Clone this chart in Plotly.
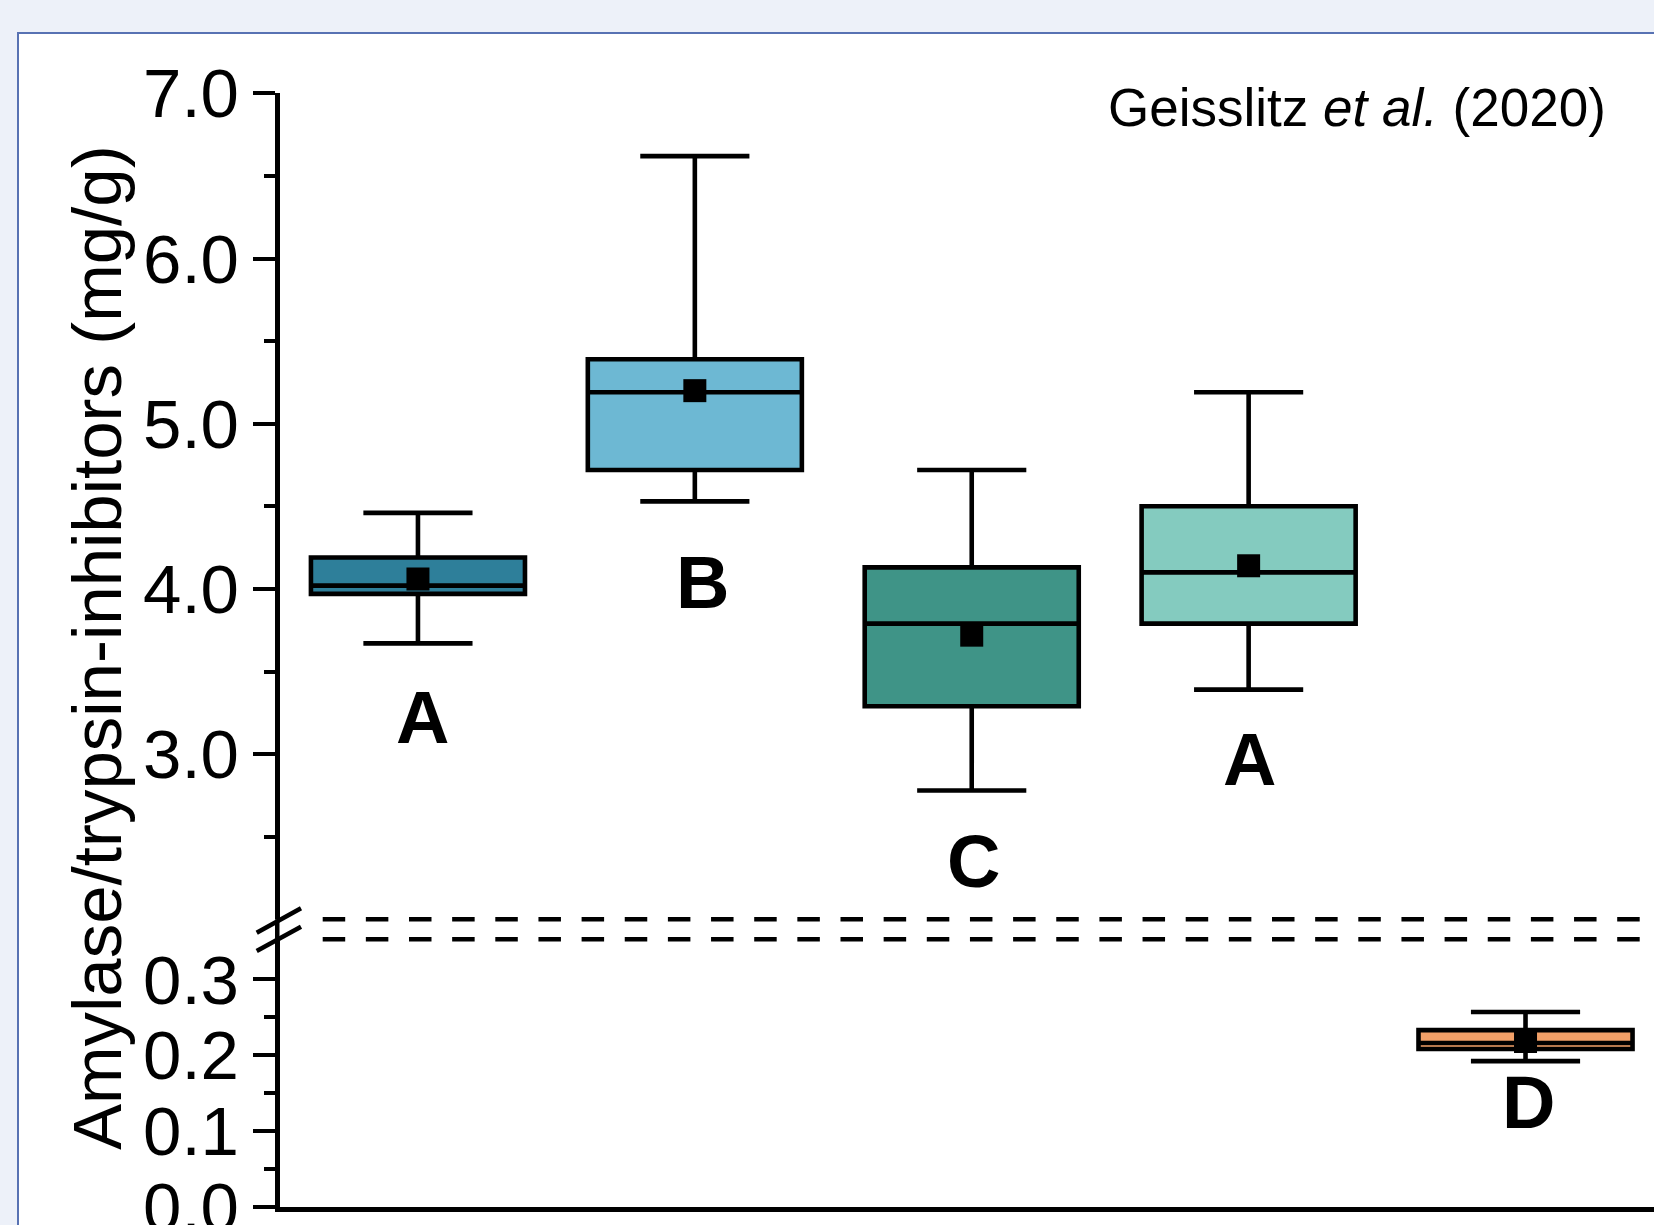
import plotly.graph_objects as go

# ---------------- data ----------------
positions = [1, 2, 3, 4, 5]
q1 = [3.97, 4.72, 3.29, 3.79, 0.208]
median = [4.02, 5.19, 3.79, 4.10, 0.216]
q3 = [4.19, 5.39, 4.13, 4.50, 0.233]
lower_whisker = [3.67, 4.53, 2.78, 3.39, 0.192]
upper_whisker = [4.46, 6.62, 4.72, 5.19, 0.257]
means = [4.06, 5.20, 3.72, 4.14, 0.218]
letters = ["A", "B", "C", "A", "D"]
panel = ["upper", "upper", "upper", "upper", "lower"]
upper_ticks = [3, 4, 5, 6, 7]
upper_ticktext = ["3.0", "4.0", "5.0", "6.0", "7.0"]
upper_minor = [2.5, 3.5, 4.5, 5.5, 6.5]
lower_ticks = [0.0, 0.1, 0.2, 0.3]
lower_ticktext = ["0.0", "0.1", "0.2", "0.3"]
lower_minor = [0.05, 0.15, 0.25]
y_title = "Amylase/trypsin-inhibitors (mg/g)"
source_text = "Geisslitz <i>et al.</i> (2020)"

# ---------------- style ----------------
W, H = 1654, 1225
colors = ["#2E7F9A", "#6DB8D3", "#3F9487", "#84CBBF", "#F2A068"]
letter_dy = [74, 81, 71, 70, 41]   # px below lower whisker
letter_dx = [5, 8, 2, 1, 3]
FONT = "Liberation Sans, Arial, sans-serif"
LW = 4.5


def px_x(p):
    return p / W


def px_y(p):
    return 1 - p / H


x_dom0 = px_x(279.5)
up_dom = [px_y(919.3), px_y(93.3)]
lo_dom = [px_y(1206.5), px_y(939.3)]

fig = go.Figure()

for i, pos in enumerate(positions):
    ya = "y2" if panel[i] == "upper" else "y"
    fig.add_trace(go.Box(
        x=[pos], q1=[q1[i]], median=[median[i]], q3=[q3[i]],
        lowerfence=[lower_whisker[i]], upperfence=[upper_whisker[i]],
        width=0.773, whiskerwidth=0.51, fillcolor=colors[i],
        line=dict(color="black", width=4.6), boxpoints=False,
        xaxis="x", yaxis=ya, showlegend=False, hoverinfo="skip",
    ))

for i, pos in enumerate(positions):
    ya = "y2" if panel[i] == "upper" else "y"
    fig.add_trace(go.Scatter(
        x=[pos], y=[means[i]], mode="markers",
        marker=dict(symbol="square", size=23, color="black"),
        xaxis="x", yaxis=ya, showlegend=False, hoverinfo="skip",
    ))

annotations = []
for i, pos in enumerate(positions):
    ya = "y2" if panel[i] == "upper" else "y"
    annotations.append(dict(
        x=pos, y=lower_whisker[i], xref="x", yref=ya, text=letters[i],
        showarrow=False, xanchor="center", yanchor="middle",
        yshift=-letter_dy[i], xshift=letter_dx[i],
        font=dict(family=FONT, size=74, color="black", weight="bold"),
    ))

annotations.append(dict(
    x=px_x(97), y=px_y(648), xref="paper", yref="paper", text=y_title,
    textangle=-90, showarrow=False, xanchor="center", yanchor="middle",
    font=dict(family=FONT, size=69, color="black"),
))
annotations.append(dict(
    x=px_x(1608), y=px_y(108), xref="paper", yref="paper", text=source_text,
    showarrow=False, xanchor="right", yanchor="middle",
    font=dict(family=FONT, size=53, color="black"),
))

shapes = [
    # white panel
    dict(type="rect", xref="paper", yref="paper", layer="below",
         x0=px_x(18), x1=1.05, y0=-0.05, y1=px_y(33),
         fillcolor="white", line=dict(color="#5872B3", width=2)),
    # dashed break lines
    dict(type="line", xref="paper", yref="paper",
         x0=px_x(322.7), x1=1.0, y0=up_dom[0], y1=up_dom[0],
         line=dict(color="black", width=4.5, dash="22.5px,20.65px")),
    dict(type="line", xref="paper", yref="paper",
         x0=px_x(322.7), x1=1.0, y0=lo_dom[1], y1=lo_dom[1],
         line=dict(color="black", width=4.5, dash="22.5px,20.65px")),
    # axis segment through the break
    dict(type="line", xref="paper", yref="paper",
         x0=px_x(277.25), x1=px_x(277.25), y0=up_dom[0], y1=lo_dom[1],
         line=dict(color="black", width=LW)),
    # break slashes
    dict(type="line", xref="paper", yref="paper",
         x0=px_x(256.7), y0=px_y(932.7), x1=px_x(301), y1=px_y(908.3),
         line=dict(color="black", width=4.5)),
    dict(type="line", xref="paper", yref="paper",
         x0=px_x(256.7), y0=px_y(951), x1=px_x(301), y1=px_y(926.7),
         line=dict(color="black", width=4.5)),
]

axis_common = dict(
    showline=True, linewidth=LW, linecolor="black", showgrid=False,
    zeroline=False, ticks="outside", ticklen=22, tickwidth=4,
    tickcolor="black", tickfont=dict(family=FONT, size=69, color="black"),
    anchor="x", fixedrange=True, automargin=False,
    ticklabeloverflow="allow",
)

fig.update_layout(
    width=W, height=H, autosize=False,
    margin=dict(l=0, r=0, t=0, b=0, pad=0),
    paper_bgcolor="#EDF1F9", plot_bgcolor="rgba(0,0,0,0)",
    boxmode="overlay", showlegend=False, hovermode=False,
    xaxis=dict(domain=[x_dom0, 1.0], range=[0.5, 5.464], showline=True,
               linewidth=LW, linecolor="black", showgrid=False,
               zeroline=False, ticks="", showticklabels=False,
               anchor="y", fixedrange=True, automargin=False),
    yaxis=dict(domain=lo_dom, range=[0, 0.353], tickmode="array",
               tickvals=lower_ticks, ticktext=lower_ticktext,
               minor=dict(tickmode="array", tickvals=lower_minor,
                          ticks="outside", ticklen=11, tickwidth=4,
                          tickcolor="black", showgrid=False),
               **axis_common),
    yaxis2=dict(domain=up_dom, range=[2.0, 7.0], tickmode="array",
                tickvals=upper_ticks, ticktext=upper_ticktext,
                minor=dict(tickmode="array", tickvals=upper_minor,
                           ticks="outside", ticklen=11, tickwidth=4,
                           tickcolor="black", showgrid=False),
                **axis_common),
    annotations=annotations,
    shapes=shapes,
)

fig.write_html(
    "out.html",
    config={"displayModeBar": False},
    post_script="document.body.style.margin='0';"
                "document.body.style.overflow='hidden';",
)
